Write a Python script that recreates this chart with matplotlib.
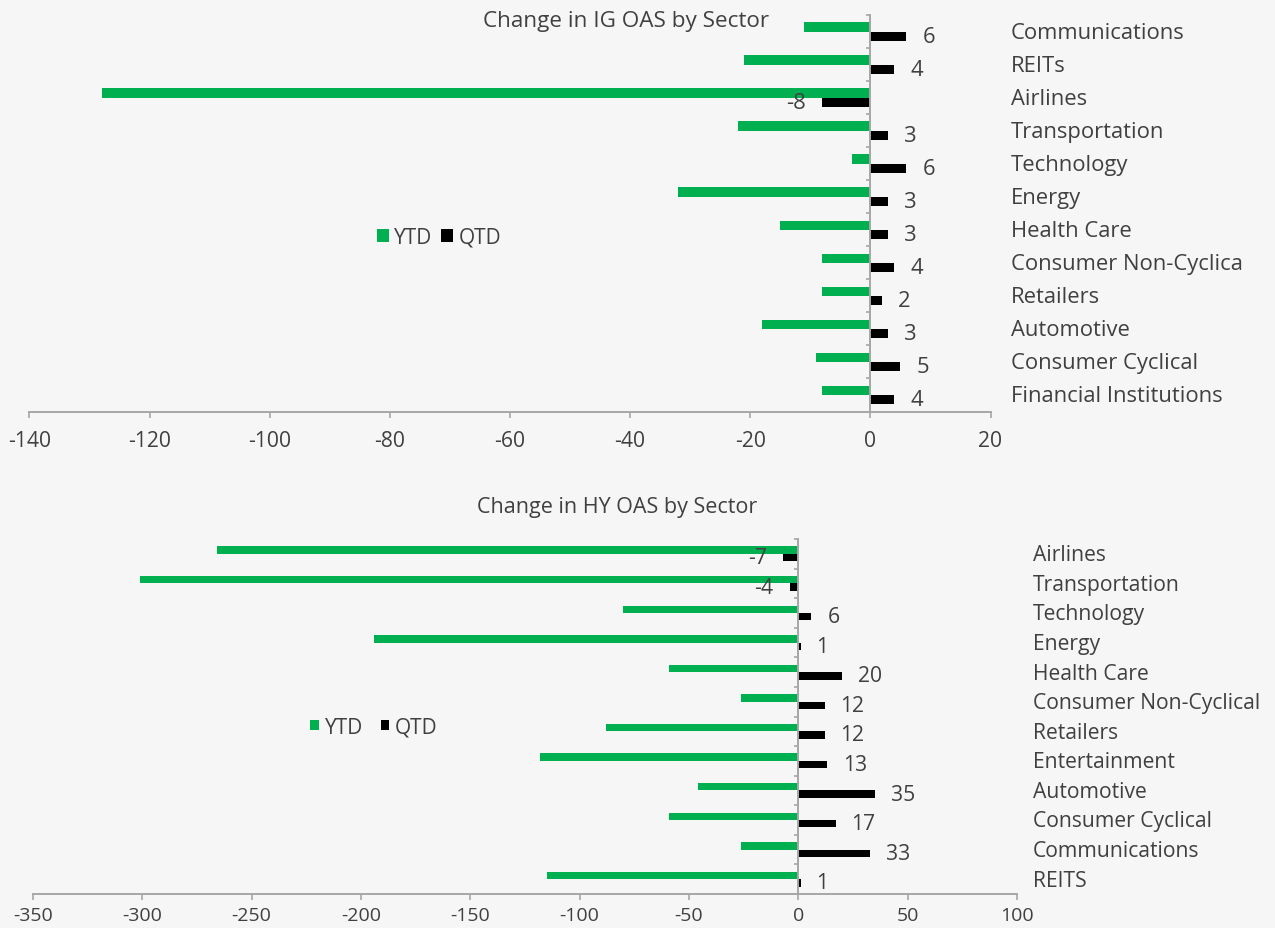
import numpy as np
import matplotlib
matplotlib.use("Agg")
import matplotlib.pyplot as plt
from matplotlib.patches import Patch
from matplotlib.transforms import blended_transform_factory

# ---- data ----
ig_sectors = ["Communications", "REITs", "Airlines", "Transportation", "Technology",
              "Energy", "Health Care", "Consumer Non-Cyclica", "Retailers",
              "Automotive", "Consumer Cyclical", "Financial Institutions"]
ig_ytd = [-11, -21, -128, -22, -3, -32, -15, -8, -8, -18, -9, -8]
ig_qtd = [6, 4, -8, 3, 6, 3, 3, 4, 2, 3, 5, 4]

hy_sectors = ["Airlines", "Transportation", "Technology", "Energy", "Health Care",
              "Consumer Non-Cyclical", "Retailers", "Entertainment", "Automotive",
              "Consumer Cyclical", "Communications", "REITS"]
hy_ytd = [-266, -301, -80, -194, -59, -26, -88, -118, -46, -59, -26, -115]
hy_qtd = [-7, -4, 6, 1, 20, 12, 12, 13, 35, 17, 33, 1]

ig_xticks = [-140, -120, -100, -80, -60, -40, -20, 0, 20]
hy_xticks = [-350, -300, -250, -200, -150, -100, -50, 0, 50, 100]

# ---- style ----
GREEN = "#00b050"
BLACK = "#000000"
TEXT = "#404040"
AXIS = "#a6a6a6"
BG = "#f6f6f6"

plt.rcParams["font.family"] = ["Open Sans", "DejaVu Sans"]

W, H = 1275, 929
fig = plt.figure(figsize=(W / 100, H / 100), dpi=100, facecolor=BG)


def fx(px):
    return px / W


def fy(py):
    return 1 - py / H


def panel(rect_px, sectors, ytd, qtd, xticks, bar_h, fs, tick_fs, title_fs,
          tick_pad, label_x_px, title, title_xy, legend_xy, legend_kw):
    x0, y0, x1, y1 = rect_px
    ax = fig.add_axes([fx(x0), fy(y1), fx(x1) - fx(x0), fy(y0) - fy(y1)])
    ax.set_facecolor(BG)
    n = len(sectors)
    pos = np.arange(n)
    ax.barh(pos - bar_h / 2, ytd, height=bar_h, color=GREEN, label="YTD")
    b2 = ax.barh(pos + bar_h / 2, qtd, height=bar_h, color=BLACK, label="QTD")
    ax.bar_label(b2, labels=[str(v) for v in qtd], padding=11.5,
                 fontsize=fs, color=TEXT)

    ax.set_xlim(xticks[0], xticks[-1])
    ax.set_ylim(n - 0.5, -0.5)
    ax.set_xticks(xticks)
    ax.set_xticklabels([str(t) for t in xticks], fontsize=tick_fs, color=TEXT)
    ax.set_yticks(np.arange(-0.5, n, 1))
    ax.set_yticklabels([])

    for s in ("top", "right"):
        ax.spines[s].set_visible(False)
    ax.spines["left"].set_position(("data", 0))
    for s in ("left", "bottom"):
        ax.spines[s].set_color(AXIS)
        ax.spines[s].set_linewidth(1.4)
    ax.tick_params(axis="x", direction="out", length=4.5, width=1.2,
                   color=AXIS, pad=tick_pad)
    ax.tick_params(axis="y", direction="out", length=3, width=1.2, color=AXIS)

    tr = blended_transform_factory(fig.transFigure, ax.transData)
    for i, name in enumerate(sectors):
        ax.text(fx(label_x_px), i + 0.03, name, transform=tr, ha="left",
                va="center", fontsize=fs, color=TEXT)

    fig.text(fx(title_xy[0]), fy(title_xy[1]), title, ha="center", va="center",
             fontsize=title_fs, color=TEXT)

    handles = [Patch(facecolor=GREEN, edgecolor="none"),
               Patch(facecolor=BLACK, edgecolor="none")]
    fig.legend(handles, ["YTD", "QTD"], loc="center", ncol=2, frameon=False,
               bbox_to_anchor=(fx(legend_xy[0]), fy(legend_xy[1])),
               bbox_transform=fig.transFigure, prop={"size": 15},
               labelcolor=TEXT, borderpad=0, **legend_kw)
    return ax


panel((29.5, 16, 990.5, 412.5), ig_sectors, ig_ytd, ig_qtd, ig_xticks,
      0.28, 15.8, 15.2, 16.2, 8.5, 1011, "Change in IG OAS by Sector",
      (626, 22), (439, 238),
      dict(handlelength=0.58, handleheight=0.58, handletextpad=0.25,
           columnspacing=0.4))

panel((33, 540, 1017, 895), hy_sectors, hy_ytd, hy_qtd, hy_xticks,
      0.25, 15.2, 14.0, 15.5, 4.5, 1033, "Change in HY OAS by Sector",
      (617, 508), (374, 728),
      dict(handlelength=0.42, handleheight=0.42, handletextpad=0.27,
           columnspacing=0.85))

fig.savefig("out.png", dpi=100, facecolor=BG)
